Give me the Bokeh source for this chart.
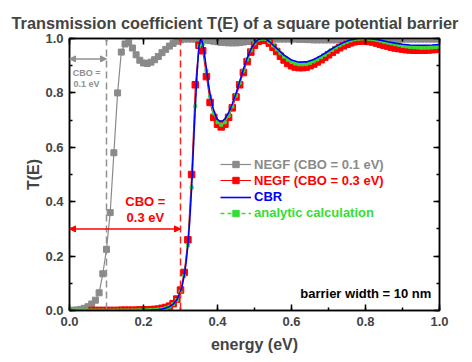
from bokeh.plotting import figure
from bokeh.models import (LinearAxis, Range1d, Span, Arrow, NormalHead, Label,
                          Legend, LegendItem, SingleIntervalTicker, PrintfTickFormatter,
                          CustomJSTickFormatter)
from bokeh.embed import file_html
from bokeh.resources import INLINE

FONT = "Liberation Sans"

# ---------------- data ----------------
energy = [round(0.01 * i, 2) for i in range(101)]

negf_cbo01 = [
    0.000, 0.001, 0.002, 0.004, 0.008, 0.014, 0.024, 0.038, 0.065, 0.135,
    0.225, 0.36, 0.58, 0.80, 0.95, 0.98, 0.985, 0.965, 0.94, 0.92,
    0.91, 0.908, 0.913, 0.922, 0.934, 0.948, 0.96, 0.972, 0.982, 0.99,
    0.995, 0.998, 0.998, 0.998, 0.998, 0.997, 0.996, 0.994, 0.992, 0.99,
    0.988, 0.986, 0.985, 0.984, 0.984, 0.984, 0.985, 0.987, 0.989, 0.991,
    0.993, 0.994, 0.995, 0.996, 0.997, 0.998, 0.998, 0.998, 0.998, 0.998,
    0.998, 0.998, 0.997, 0.997, 0.996, 0.996, 0.995, 0.995, 0.995, 0.995,
    0.995, 0.995, 0.995, 0.995, 0.995, 0.995, 0.995, 0.995, 0.995, 0.995,
    0.995, 0.995, 0.996, 0.996, 0.996, 0.996, 0.997, 0.997, 0.997, 0.997,
    0.998, 0.998, 0.998, 0.998, 0.998, 0.998, 0.998, 0.998, 0.998, 0.998,
    0.998]

negf_cbo03_energy = energy[6:]
negf_cbo03 = [
    0.0, 0.0, 0.0, 0.0, 0.0, 0.0, 0.0, 0.0, 0.001, 0.001, 0.001, 0.001, 0.001, 0.002,
    0.002, 0.002, 0.003, 0.004, 0.005, 0.008, 0.011, 0.016, 0.025, 0.042,
    0.075, 0.14, 0.26, 0.50, 0.83, 0.975, 0.955, 0.86, 0.765, 0.71,
    0.685, 0.675, 0.685, 0.71, 0.745, 0.785, 0.83, 0.875, 0.915, 0.95,
    0.975, 0.99, 0.995, 0.993, 0.983, 0.968, 0.952, 0.935, 0.921, 0.908,
    0.90, 0.895, 0.893, 0.893, 0.895, 0.90, 0.906, 0.914, 0.922, 0.931,
    0.94, 0.949, 0.958, 0.966, 0.973, 0.979, 0.984, 0.988, 0.99, 0.991,
    0.991, 0.989, 0.987, 0.983, 0.979, 0.975, 0.972, 0.968, 0.965, 0.963,
    0.961, 0.959, 0.958, 0.957, 0.957, 0.957, 0.957, 0.958, 0.959, 0.960, 0.961]

cbr_energy = [
    0.0, 0.05, 0.10, 0.15, 0.20, 0.22, 0.24, 0.25, 0.26, 0.27, 0.28, 0.29,
    0.30, 0.305, 0.31, 0.315, 0.32, 0.325, 0.33, 0.335, 0.34, 0.345, 0.35, 0.355,
    0.36, 0.365, 0.37, 0.375, 0.38, 0.385, 0.39, 0.395, 0.40, 0.405, 0.41, 0.415, 0.42,
    0.43, 0.44, 0.45, 0.46, 0.47, 0.48, 0.49, 0.50, 0.51, 0.52, 0.53, 0.54,
    0.56, 0.58, 0.60, 0.62, 0.64, 0.66, 0.68, 0.70, 0.72, 0.74, 0.76, 0.78,
    0.80, 0.82, 0.84, 0.86, 0.88, 0.90, 0.92, 0.94, 0.96, 0.98, 1.00]
cbr = [
    0.0, 0.0, 0.0, 0.0001, 0.0008, 0.0017, 0.0037, 0.0055, 0.0088, 0.014, 0.023, 0.039,
    0.07, 0.094, 0.128, 0.175, 0.24, 0.33, 0.45, 0.6, 0.75, 0.88, 0.973, 1.0,
    0.982, 0.94, 0.888, 0.838, 0.795, 0.762, 0.735, 0.716, 0.703, 0.697, 0.696, 0.698, 0.705,
    0.727, 0.76, 0.798, 0.843, 0.887, 0.927, 0.96, 0.983, 0.996, 1.0, 0.999, 0.989,
    0.964, 0.939, 0.921, 0.913, 0.914, 0.923, 0.937, 0.954, 0.971, 0.985, 0.995, 1.0,
    1.0, 0.998, 0.994, 0.988, 0.983, 0.979, 0.976, 0.975, 0.975, 0.976, 0.978]

analytic = [
    0, 0, 0, 0, 0, 0, 0, 0, 0, 0,
    0, 0, 0, 0, 0.0001, 0.0001, 0.0002, 0.0003, 0.0004, 0.0005,
    0.0007, 0.001, 0.0016, 0.0024, 0.0036, 0.0055, 0.0087, 0.014, 0.023, 0.039,
    0.069, 0.127, 0.24, 0.452, 0.751, 0.973, 0.98, 0.882, 0.787, 0.725,
    0.692, 0.683, 0.692, 0.716, 0.75, 0.79, 0.837, 0.882, 0.923, 0.957,
    0.982, 0.996, 0.999, 0.999, 0.987, 0.974, 0.96, 0.946, 0.933, 0.922,
    0.914, 0.908, 0.905, 0.905, 0.906, 0.91, 0.916, 0.923, 0.931, 0.94,
    0.949, 0.958, 0.967, 0.975, 0.982, 0.988, 0.993, 0.997, 0.999, 1.0,
    1.0, 0.999, 0.997, 0.995, 0.992, 0.988, 0.985, 0.982, 0.979, 0.976,
    0.973, 0.971, 0.969, 0.968, 0.967, 0.966, 0.966, 0.966, 0.967, 0.968, 0.970]

cbo_values = [0.1, 0.3]          # conduction band offsets (eV)
cbo_arrow_levels = [0.925, 0.30]  # T level of the annotation arrows
series_labels = ["NEGF (CBO = 0.1 eV)", "NEGF (CBO = 0.3 eV)", "CBR", "analytic calculation"]

GRAY, RED, BLUE, GREEN = "#8a8a8a", "#ff0000", "#0000ff", "#33dd33"

# ---------------- figure ----------------
p = figure(width=472, height=362, x_range=Range1d(0, 1), y_range=Range1d(0, 1),
           output_backend="svg", toolbar_location=None,
           min_border_left=69, min_border_right=33, min_border_top=38, min_border_bottom=52,
           title="Transmission coefficient T(E) of a square potential barrier")
p.title.text_font = FONT
p.title.text_font_style = "bold"
p.title.text_font_size = "16.3px"
p.title.align = "left"
p.title.standoff = 13
p.title.offset = -58
p.xgrid.visible = False
p.ygrid.visible = False
p.outline_line_color = "black"
p.outline_line_width = 1.5
p.background_fill_color = "white"
p.border_fill_color = "white"

p.xaxis.axis_label = "energy (eV)"
p.yaxis.axis_label = "T(E)"


def style_axis(ax, labels=True):
    ax.ticker = SingleIntervalTicker(interval=0.2, num_minor_ticks=2)
    if labels:
        ax.formatter = PrintfTickFormatter(format="%.1f")
    else:
        ax.formatter = CustomJSTickFormatter(code="return ''")
    ax.major_tick_in = 6
    ax.major_tick_out = 0
    ax.minor_tick_in = 3
    ax.minor_tick_out = 0
    ax.axis_line_width = 1.5
    ax.major_tick_line_width = 1.5
    ax.minor_tick_line_width = 1.5
    ax.major_label_text_font = FONT
    ax.major_label_text_font_style = "bold"
    ax.major_label_text_font_size = "13px" if labels else "1px"
    ax.major_label_standoff = 6 if labels else 0
    ax.axis_label_text_font = FONT
    ax.axis_label_text_font_style = "bold"
    ax.axis_label_text_font_size = "16px"


style_axis(p.xaxis[0])
style_axis(p.yaxis[0])
p.xaxis[0].axis_label_standoff = 7
p.yaxis[0].axis_label_standoff = 0
top = LinearAxis()
right = LinearAxis()
style_axis(top, labels=False)
style_axis(right, labels=False)
p.add_layout(top, "above")
p.add_layout(right, "right")

# ---------------- CBO markers ----------------
for cbo, col in zip(cbo_values, ["#909090", "#ff2020"]):
    p.add_layout(Span(location=cbo, dimension="height", line_color=col,
                      line_width=1.5, line_dash="7 4"))

for cbo, lvl, col in zip(cbo_values, cbo_arrow_levels, ["#909090", RED]):
    p.add_layout(Arrow(start=NormalHead(size=6, fill_color=col, line_color=col),
                       end=NormalHead(size=6, fill_color=col, line_color=col),
                       x_start=0, y_start=lvl, x_end=cbo, y_end=lvl,
                       line_color=col, line_width=1.5))

# ---------------- series ----------------
g_line = p.line(energy, negf_cbo01, line_color=GRAY, line_width=1.2)
g_mark = p.scatter(energy, negf_cbo01, marker="square", size=6, fill_color=GRAY, line_color=GRAY)
r_line = p.line(negf_cbo03_energy, negf_cbo03, line_color=RED, line_width=1)
r_mark = p.scatter(negf_cbo03_energy, negf_cbo03, marker="square", size=6.5, fill_color=RED, line_color=RED)
a_line = p.line(energy, analytic, line_color=GREEN, line_width=1.3, line_dash="4 3")
a_mark = p.scatter(energy, analytic, marker="square", size=3, fill_color=GREEN, line_color=GREEN)
b_line = p.line(cbr_energy, cbr, line_color=BLUE, line_width=1.6)

# ---------------- texts ----------------
txt = dict(text_font=FONT, text_font_style="bold", text_align="center", text_baseline="middle")
p.add_layout(Label(x=0.046, y=0.874, text="CBO =", text_color="#909090", text_font_size="9px", **txt))
p.add_layout(Label(x=0.046, y=0.833, text="0.1 eV", text_color="#909090", text_font_size="9px", **txt))
p.add_layout(Label(x=0.205, y=0.402, text="CBO =", text_color=RED, text_font_size="13px", **txt))
p.add_layout(Label(x=0.205, y=0.343, text="0.3 eV", text_color=RED, text_font_size="13px", **txt))
p.add_layout(Label(x=0.978, y=0.061, text="barrier width = 10 nm", text_color="black",
                   text_font_size="13px", text_font=FONT, text_font_style="bold",
                   text_align="right", text_baseline="middle"))

# ---------------- legend (one per entry, coloured text) ----------------
entries = [(series_labels[0], [g_line, g_mark], GRAY),
           (series_labels[1], [r_line, r_mark], RED),
           (series_labels[2], [b_line], BLUE),
           (series_labels[3], [a_line, a_mark], GREEN)]
for i, (lab, rends, col) in enumerate(entries):
    lg = Legend(items=[LegendItem(label=lab, renderers=rends)],
                location=(151, 138 - 16.3 * i),
                label_text_color=col, label_text_font=FONT, label_text_font_style="bold",
                label_text_font_size="13px", background_fill_alpha=0, border_line_alpha=0,
                padding=0, margin=0, glyph_width=31, glyph_height=16, label_height=16,
                label_standoff=3, spacing=0)
    p.add_layout(lg)

open("out.html", "w").write(file_html(p, INLINE))
